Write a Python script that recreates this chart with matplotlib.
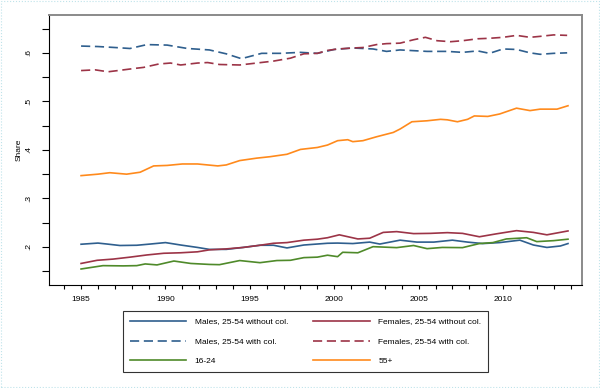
import matplotlib
matplotlib.use("Agg")
import matplotlib.pyplot as plt
from matplotlib.ticker import FixedLocator
from matplotlib.patches import Rectangle

plt.rcParams['font.family'] = ['Liberation Sans', 'DejaVu Sans']

# ---- data ----
yr_m_col = [1985.0, 1986.0, 1987.0, 1987.9, 1988.9, 1990.1, 1991.3, 1992.6, 1993.6, 1994.5,
            1995.7, 1996.8, 1998.0, 1999.0, 2000.0, 2001.1, 2002.3, 2003.1, 2003.9, 2005.5,
            2006.7, 2007.6, 2008.5, 2009.2, 2010.0, 2010.8, 2011.6, 2012.2, 2013.0, 2013.8]
males_col = [.614, .613, .611, .609, .617, .616, .609, .606, .598, .588,
             .599, .599, .601, .599, .607, .610, .608, .603, .606, .603,
             .603, .601, .604, .599, .608, .607, .600, .597, .599, .600]

yr_f_col = [1985.0, 1985.83, 1986.6, 1987.3, 1988.2, 1988.7, 1989.6, 1990.3, 1990.9, 1991.9,
            1992.5, 1993.2, 1994.4, 1995.4, 1996.4, 1997.4, 1998.2, 1999.0, 1999.6, 2000.2,
            2001.1, 2001.7, 2002.5, 2003.1, 2003.9, 2004.7, 2005.4, 2006.1, 2006.9, 2007.6,
            2008.5, 2009.2, 2010.0, 2010.8, 2011.6, 2012.2, 2013.0, 2013.8]
females_col = [.5635, .565, .561, .564, .568, .570, .577, .579, .575, .579,
               .580, .576, .575, .579, .583, .589, .598, .599, .605, .608,
               .610, .611, .617, .619, .620, .627, .632, .625, .623, .625,
               .629, .630, .632, .636, .632, .634, .637, .636]

yr_55 = [1985.0, 1986.0, 1986.7, 1987.7, 1988.5, 1989.3, 1990.1, 1991.0, 1991.9, 1993.1,
         1993.6, 1994.4, 1995.4, 1996.2, 1997.2, 1998.0, 1999.0, 1999.6, 2000.2, 2000.8,
         2001.1, 2001.7, 2002.5, 2003.5, 2003.9, 2004.6, 2005.5, 2006.3, 2006.7, 2007.3,
         2007.9, 2008.3, 2009.1, 2009.8, 2010.8, 2011.6, 2012.2, 2013.2, 2013.85]
age_55 = [.347, .350, .353, .350, .354, .367, .368, .371, .371, .367,
          .369, .378, .383, .386, .391, .401, .405, .410, .419, .421,
          .417, .419, .427, .436, .443, .458, .460, .463, .462, .458,
          .463, .470, .469, .474, .486, .481, .484, .484, .491]

yr_m_nocol = [1985.0, 1986.0, 1986.54, 1987.3, 1988.3, 1989.1, 1990.0, 1990.9, 1991.9, 1992.6,
              1993.6, 1994.6, 1995.6, 1996.4, 1997.2, 1998.2, 1999.6, 2000.2, 2001.1, 2002.1,
              2002.7, 2003.9, 2004.9, 2005.9, 2007.0, 2007.9, 2008.8, 2009.8, 2011.0, 2011.8,
              2012.6, 2013.4, 2013.85]
males_nocol = [.2056, .208, .206, .203, .2035, .206, .209, .204, .199, .195,
               .195, .199, .2035, .2035, .198, .204, .2076, .208, .207, .210,
               .206, .214, .210, .210, .214, .210, .207, .209, .214, .204,
               .199, .202, .207]

yr_f_nocol = [1985.0, 1985.95, 1986.9, 1987.9, 1988.9, 1989.9, 1990.9, 1991.9, 1992.6, 1993.6,
              1994.6, 1995.6, 1996.4, 1997.2, 1998.2, 1999.0, 1999.6, 2000.3, 2001.4, 2002.1,
              2002.9, 2003.7, 2004.7, 2005.7, 2006.7, 2007.6, 2008.6, 2009.6, 2010.8, 2011.8,
              2012.6, 2013.85]
females_nocol = [.166, .1725, .175, .179, .1835, .187, .188, .190, .194, .196,
                 .199, .2035, .2076, .209, .214, .216, .219, .225, .2165, .218,
                 .230, .2316, .2275, .228, .2295, .228, .221, .227, .2336, .230,
                 .225, .233]

yr_1624 = [1985.0, 1986.3, 1987.5, 1988.3, 1988.8, 1989.5, 1990.5, 1991.5, 1992.6, 1993.2,
           1994.4, 1995.6, 1996.6, 1997.4, 1998.2, 1999.0, 1999.6, 2000.2, 2000.5, 2001.4,
           2002.3, 2003.7, 2004.7, 2005.5, 2006.4, 2007.6, 2008.6, 2009.4, 2010.2, 2011.4,
           2012.0, 2013.0, 2013.85]
age_1624 = [.1546, .1615, .161, .1615, .165, .163, .171, .166, .164, .1635,
            .172, .1676, .172, .1725, .178, .179, .183, .180, .189, .188,
            .2006, .1986, .203, .1965, .199, .1986, .207, .209, .2165, .219,
            .211, .213, .216]

xticks = [1985, 1990, 1995, 2000, 2005, 2010]
yticks = [.2, .3, .4, .5, .6]
ytick_labels = ['.2', '.3', '.4', '.5', '.6']

lab_m_nocol = "Males, 25-54 without col."
lab_f_nocol = "Females, 25-54 without col."
lab_m_col = "Males, 25-54 with col."
lab_f_col = "Females, 25-54 with col."
lab_1624 = "16-24"
lab_55 = "55+"

c_blue = '#2f5f8e'
c_red = '#9c3447'
c_green = '#4f8a2a'
c_orange = '#ff8a1c'

fig = plt.figure(figsize=(6.0, 3.88), dpi=100)
ax = fig.add_axes([49/600, 1-285/388, (582-49)/600, (285-15)/388])

lw = 1.2
dash = (5.5, 2.8)
h1, = ax.plot(yr_m_nocol, males_nocol, color=c_blue, lw=lw)
h2, = ax.plot(yr_f_nocol, females_nocol, color=c_red, lw=lw)
h3, = ax.plot(yr_m_col, males_col, color=c_blue, lw=lw, ls=(0, dash))
h4, = ax.plot(yr_f_col, females_col, color=c_red, lw=lw, ls=(0, dash))
h5, = ax.plot(yr_1624, age_1624, color=c_green, lw=lw)
h6, = ax.plot(yr_55, age_55, color=c_orange, lw=lw)

ax.set_xlim(1983.1, 2014.68)
ax.set_ylim(0.1216, 0.678)

ax.xaxis.set_major_locator(FixedLocator(xticks))
ax.xaxis.set_minor_locator(FixedLocator(list(range(1984, 2015))))
ax.yaxis.set_major_locator(FixedLocator(yticks))
ax.yaxis.set_minor_locator(FixedLocator([.15, .25, .35, .45, .55, .65]))
ax.set_yticklabels(ytick_labels, rotation=90, va='center')
ax.tick_params(axis='both', which='both', direction='out', labelsize=6, width=0.8)
ax.tick_params(axis='y', which='both', length=5, pad=7)
ax.tick_params(axis='x', which='both', length=3, pad=5)
ax.set_ylabel('Share', fontsize=6, labelpad=2)

for s in ['top', 'right']:
    ax.spines[s].set_color('#8a8a8a')
    ax.spines[s].set_linewidth(1.4)
for s in ['left', 'bottom']:
    ax.spines[s].set_color('black')
    ax.spines[s].set_linewidth(0.8)

# column-major order so rows read: males/females nocol, males/females col, 16-24/55+
handles = [h1, h3, h5, h2, h4, h6]
labels = [lab_m_nocol, lab_m_col, lab_1624, lab_f_nocol, lab_f_col, lab_55]
leg = fig.legend(handles, labels, ncol=2, fontsize=6,
                 loc='upper left', bbox_to_anchor=(123/600, 1-311/388),
                 frameon=True, fancybox=False, edgecolor='black',
                 handlelength=6.8, handletextpad=1.0, columnspacing=3.0,
                 labelspacing=1.45, borderpad=0.8, borderaxespad=0)
leg.get_frame().set_linewidth(0.8)

fig.patches.append(Rectangle((0.002, 0.002), 0.996, 0.996, transform=fig.transFigure,
                             fill=False, edgecolor='#bfe3ea', lw=0.8, ls=':'))

fig.savefig('out.png', dpi=100)
